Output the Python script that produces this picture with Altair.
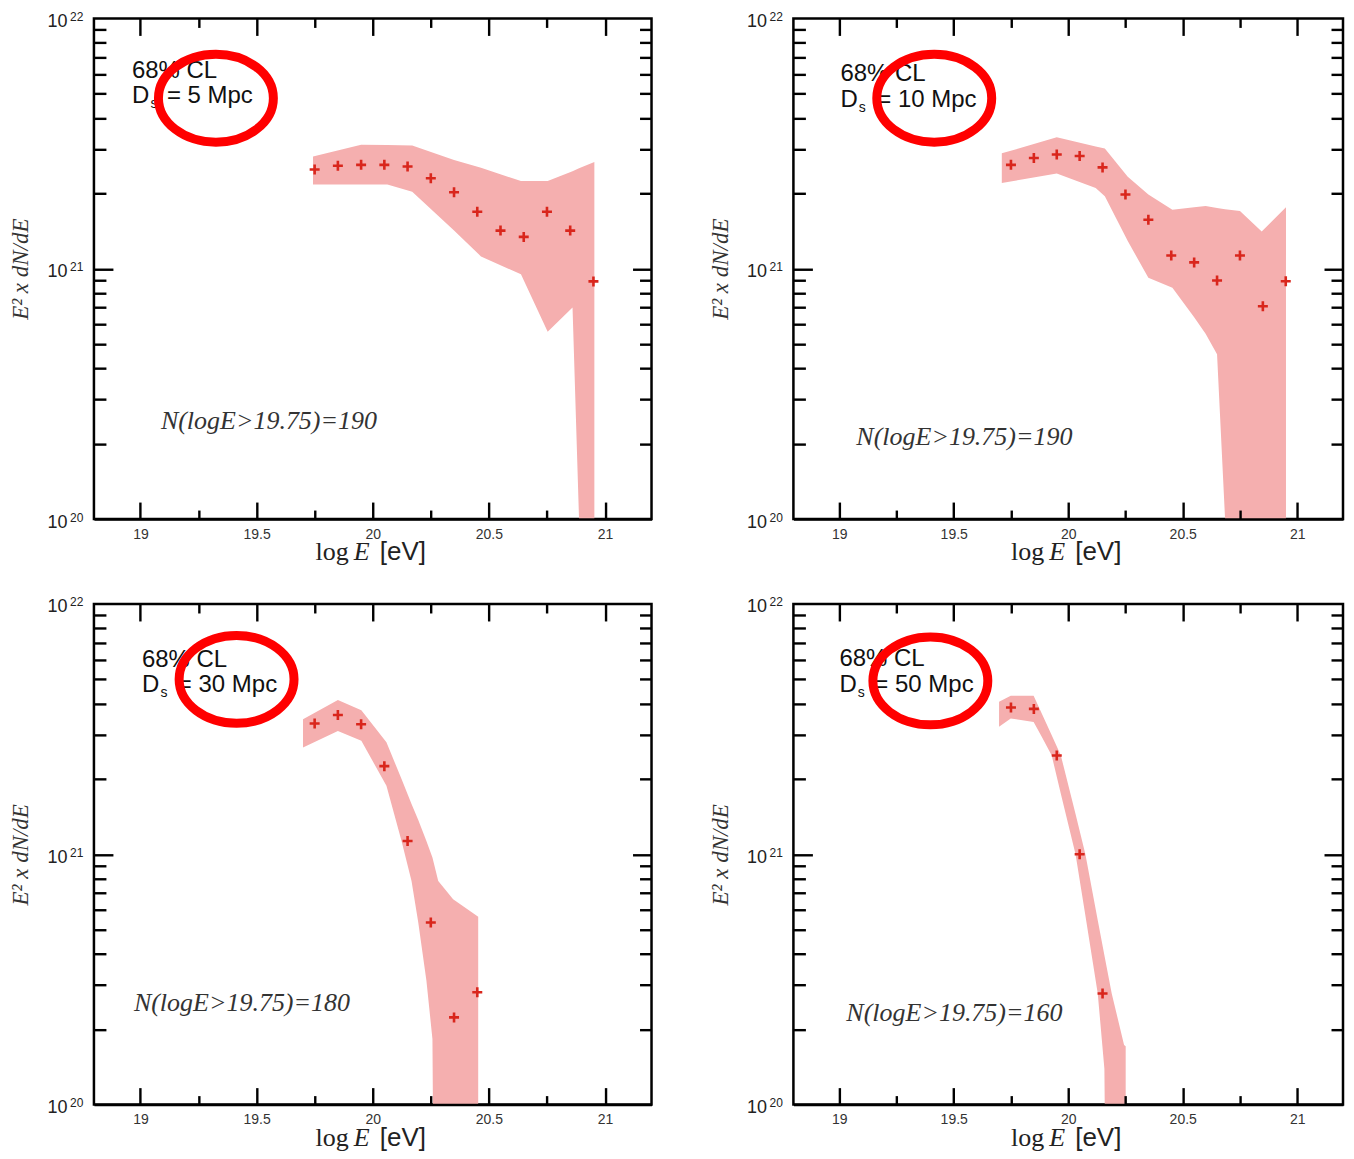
import altair as alt
import pandas as pd

# ---------------- data ----------------
X_DOMAIN = [18.8, 21.2]
Y_DOMAIN = [1e20, 1e22]

X_MAJOR = [19, 19.5, 20, 20.5, 21]
X_MINOR = [19.25, 19.75, 20.25, 20.75]
Y_MAJOR = [1e21]
Y_MINOR = [2e20, 3e20, 4e20, 5e20, 6e20, 7e20, 8e20, 9e20,
           2e21, 3e21, 4e21, 5e21, 6e21, 7e21, 8e21, 9e21]
Y_LABELS = [1e20, 1e21, 1e22]

DISTANCES = ["5 Mpc", "10 Mpc", "30 Mpc", "50 Mpc"]
COUNTS = ["N(logE>19.75)=190", "N(logE>19.75)=190",
          "N(logE>19.75)=180", "N(logE>19.75)=160"]

# Panel 1: Ds = 5 Mpc
p1_x = [19.75, 19.85, 19.95, 20.05, 20.15, 20.25, 20.35, 20.45, 20.55, 20.65, 20.75, 20.85, 20.95]
p1_y = [2.49e21, 2.58e21, 2.60e21, 2.60e21, 2.56e21, 2.30e21, 2.02e21, 1.69e21, 1.42e21, 1.34e21, 1.69e21, 1.42e21, 8.9e20]
b1_x = [19.743, 19.95, 20.063, 20.17, 20.35, 20.466, 20.638, 20.753, 20.86, 20.888, 20.954]
b1_hi = [2.81e21, 3.13e21, 3.12e21, 3.11e21, 2.72e21, 2.53e21, 2.24e21, 2.24e21, 2.45e21, 2.52e21, 2.67e21]
b1_lo = [2.17e21, 2.17e21, 2.17e21, 2.03e21, 1.42e21, 1.12e21, 9.5e20, 5.6e20, 7.0e20, 1.0e20, 1.0e17]
c1 = [19.325, 4.8e21]

# Panel 2: Ds = 10 Mpc
p2_x = [19.75, 19.85, 19.95, 20.05, 20.15, 20.25, 20.35, 20.45, 20.55, 20.65, 20.75, 20.85, 20.95]
p2_y = [2.60e21, 2.77e21, 2.86e21, 2.82e21, 2.54e21, 1.98e21, 1.57e21, 1.13e21, 1.06e21, 8.97e20, 1.13e21, 7.08e20, 8.91e20]
b2_x = [19.71, 19.95, 20.12, 20.16, 20.26, 20.35, 20.455, 20.55, 20.6, 20.65, 20.685, 20.75, 20.845, 20.951]
b2_hi = [2.89e21, 3.35e21, 3.08e21, 3.02e21, 2.33e21, 1.98e21, 1.72e21, 1.76e21, 1.78e21, 1.75e21, 1.73e21, 1.70e21, 1.41e21, 1.76e21]
b2_lo = [2.20e21, 2.40e21, 2.10e21, 1.95e21, 1.29e21, 9.2e20, 8.4e20, 6.4e20, 5.5e20, 4.55e20, 1.0e20, 1e17, 1e17, 1e17]
c2 = [19.415, 4.8e21]

# Panel 3: Ds = 30 Mpc
p3_x = [19.75, 19.85, 19.95, 20.05, 20.15, 20.25, 20.35, 20.45]
p3_y = [3.33e21, 3.60e21, 3.31e21, 2.25e21, 1.13e21, 5.34e20, 2.23e20, 2.81e20]
b3_x = [19.70, 19.85, 19.951, 20.059, 20.124, 20.167, 20.196, 20.231, 20.257, 20.282, 20.346, 20.454]
b3_hi = [3.46e21, 4.13e21, 3.76e21, 2.80e21, 2.00e21, 1.59e21, 1.37e21, 1.13e21, 9.7e20, 7.83e20, 6.62e20, 5.63e20]
b3_lo = [2.67e21, 3.11e21, 2.84e21, 1.88e21, 1.13e21, 7.83e20, 5.34e20, 3.13e20, 1.83e20, 1e17, 1e17, 1e17]
c3 = [19.414, 5.0e21]

# Panel 4: Ds = 50 Mpc
p4_x = [19.75, 19.85, 19.95, 20.05, 20.15]
p4_y = [3.86e21, 3.81e21, 2.48e21, 1.0e21, 2.78e20]
b4_x = [19.698, 19.749, 19.849, 19.885, 19.928, 19.968, 20.032, 20.075, 20.129, 20.158, 20.19, 20.244, 20.251]
b4_hi = [4.07e21, 4.30e21, 4.30e21, 3.64e21, 2.99e21, 2.48e21, 1.45e21, 1.0e21, 5.45e20, 3.95e20, 2.78e20, 1.73e20, 1.71e20]
b4_lo = [3.23e21, 3.49e21, 3.38e21, 2.94e21, 2.48e21, 1.74e21, 1.0e21, 5.69e20, 2.78e20, 1.39e20, 1e17, 1e17, 1e17]
c4 = [19.398, 4.93e21]

# ---------------- style / layout ----------------
WIDTHS = [558, 550, 558, 550]
H = 501
SANS = "Liberation Sans"
SERIF = "Liberation Serif"
BAND_COLOR = "#f5afaf"
POINT_COLOR = "#d9261c"
RING_COLOR = "#ff0000"
CROSS = "M-1,0H1M0,-1V1"
ELLIPSE = ("M1,0 C1,0.4225 0.5523,0.765 0,0.765 "
           "C-0.5523,0.765 -1,0.4225 -1,0 "
           "C-1,-0.4225 -0.5523,-0.765 0,-0.765 "
           "C0.5523,-0.765 1,-0.4225 1,0 Z")
# per-panel text placement (pixels inside each panel)
TEXT_POS = [
    dict(clx=38, cly=60, dsy=85, eqx=73, nx=67, ny=411),
    dict(clx=47, cly=63, dsy=89, eqx=84, nx=63, ny=427),
    dict(clx=48, cly=63, dsy=88, eqx=84, nx=40, ny=407),
    dict(clx=46, cly=62, dsy=88, eqx=81, nx=53, ny=417),
]

xs = alt.Scale(domain=X_DOMAIN, nice=False, zero=False)
ys = alt.Scale(type="log", domain=Y_DOMAIN, nice=False)


def tick_axis(orient, values, length):
    return alt.Axis(orient=orient, values=values, offset=-length, tickSize=length,
                    tickWidth=2.4, tickColor="black", labels=False, domain=False,
                    grid=False, title=None, zindex=1)


x_label_axis = alt.Axis(orient="bottom", values=X_MAJOR, labelExpr="'' + datum.value",
                        labelFont=SANS, labelFontSize=14, labelColor="#333",
                        labelPadding=8, ticks=False, tickSize=0, domain=True,
                        domainColor="black", domainWidth=2.5, grid=False, title=None,
                        labelFlush=False, zindex=1)
y_label_axis = alt.Axis(orient="left", values=Y_LABELS, labelExpr="'10'",
                        labelFont=SANS, labelFontSize=18, labelColor="#222",
                        labelPadding=27, labelOffset=3, ticks=False, tickSize=0,
                        domain=False, grid=False, labelFlush=False,
                        title="E² x dN/dE", titleFont=SERIF, titleFontStyle="italic",
                        titleFontWeight="normal", titleFontSize=23, titleColor="#333",
                        titlePadding=14)
y_sup_axis = alt.Axis(orient="left", values=Y_LABELS,
                      labelExpr="'' + round(log(datum.value) / LN10)",
                      labelFont=SANS, labelFontSize=12, labelColor="#222",
                      labelPadding=11, labelOffset=-2, ticks=False, tickSize=0,
                      domain=False, grid=False, title=None, labelFlush=False)


def text_layer(text, x, y, font=SANS, size=24, style="normal", color="#111", align="left"):
    return alt.Chart(pd.DataFrame({"a": [0]})).mark_text(
        text=text, font=font, fontSize=size, fontStyle=style, color=color,
        align=align, baseline="alphabetic"
    ).encode(x=alt.value(x), y=alt.value(y))


def panel(i, px, py, bx, bhi, blo, circ):
    pos = TEXT_POS[i]
    W = WIDTHS[i]
    pts = pd.DataFrame({"x": px, "y": py})
    band = pd.DataFrame({"x": bx, "hi": bhi, "lo": blo})
    ring = pd.DataFrame({"x": [circ[0]], "y": [circ[1]]})

    area = alt.Chart(band).mark_area(color=BAND_COLOR, opacity=1, clip=True).encode(
        x=alt.X("x:Q", scale=xs, axis=x_label_axis),
        y=alt.Y("hi:Q", scale=ys, axis=y_label_axis),
        y2="lo:Q",
    )
    points = alt.Chart(pts).mark_point(shape=CROSS, filled=False, stroke=POINT_COLOR,
                                       strokeWidth=2.6, size=100, opacity=1).encode(
        x=alt.X("x:Q", scale=xs, axis=tick_axis("bottom", X_MAJOR, 17)),
        y=alt.Y("y:Q", scale=ys, axis=tick_axis("left", Y_MAJOR, 19)),
    )

    def carrier(xaxis, yaxis):
        return alt.Chart(pts).mark_point(opacity=0).encode(
            x=alt.X("x:Q", scale=xs, axis=xaxis),
            y=alt.Y("y:Q", scale=ys, axis=yaxis),
        )

    k1 = carrier(tick_axis("bottom", X_MINOR, 9), tick_axis("left", Y_MINOR, 12))
    k2 = carrier(tick_axis("top", X_MAJOR, 17), tick_axis("right", Y_MAJOR, 19))
    k3 = carrier(tick_axis("top", X_MINOR, 9), tick_axis("right", Y_MINOR, 12))
    k4 = carrier(None, y_sup_axis)

    cx = W / 2
    texts = [
        text_layer("68% CL", pos["clx"], pos["cly"]),
        text_layer("D", pos["clx"], pos["dsy"]),
        text_layer("s", pos["clx"] + 18.5, pos["dsy"] + 5, size=14),
        text_layer("= " + DISTANCES[i], pos["eqx"], pos["dsy"]),
        text_layer(COUNTS[i], pos["nx"], pos["ny"], font=SERIF, size=26,
                   style="italic", color="#333"),
        text_layer("log", cx - 24, H + 41, font=SERIF, size=26, color="#222", align="right"),
        text_layer("E", cx - 19, H + 41, font=SERIF, size=26, style="italic", color="#222"),
        text_layer("[eV]", cx + 7, H + 41, font=SANS, size=26, color="#222"),
    ]

    ellipse = alt.Chart(ring).mark_point(shape=ELLIPSE, filled=False, stroke=RING_COLOR,
                                         strokeWidth=9, size=13225, opacity=1).encode(
        x=alt.X("x:Q", scale=xs, axis=None),
        y=alt.Y("y:Q", scale=ys, axis=None),
    )

    return alt.layer(area, points, k1, k2, k3, k4, *texts, ellipse).resolve_axis(
        x="independent", y="independent"
    ).properties(width=W, height=H)


panels = [
    panel(0, p1_x, p1_y, b1_x, b1_hi, b1_lo, c1),
    panel(1, p2_x, p2_y, b2_x, b2_hi, b2_lo, c2),
    panel(2, p3_x, p3_y, b3_x, b3_hi, b3_lo, c3),
    panel(3, p4_x, p4_y, b4_x, b4_hi, b4_lo, c4),
]

chart = alt.concat(*panels, columns=2, spacing={"row": 85, "column": 142}).properties(
    bounds="flush",
    padding={"left": 0, "top": 0, "right": 0, "bottom": 0},
).configure_view(stroke="black", strokeWidth=2.5)

chart.save("out.html", embed_options={"renderer": "svg", "actions": False})
